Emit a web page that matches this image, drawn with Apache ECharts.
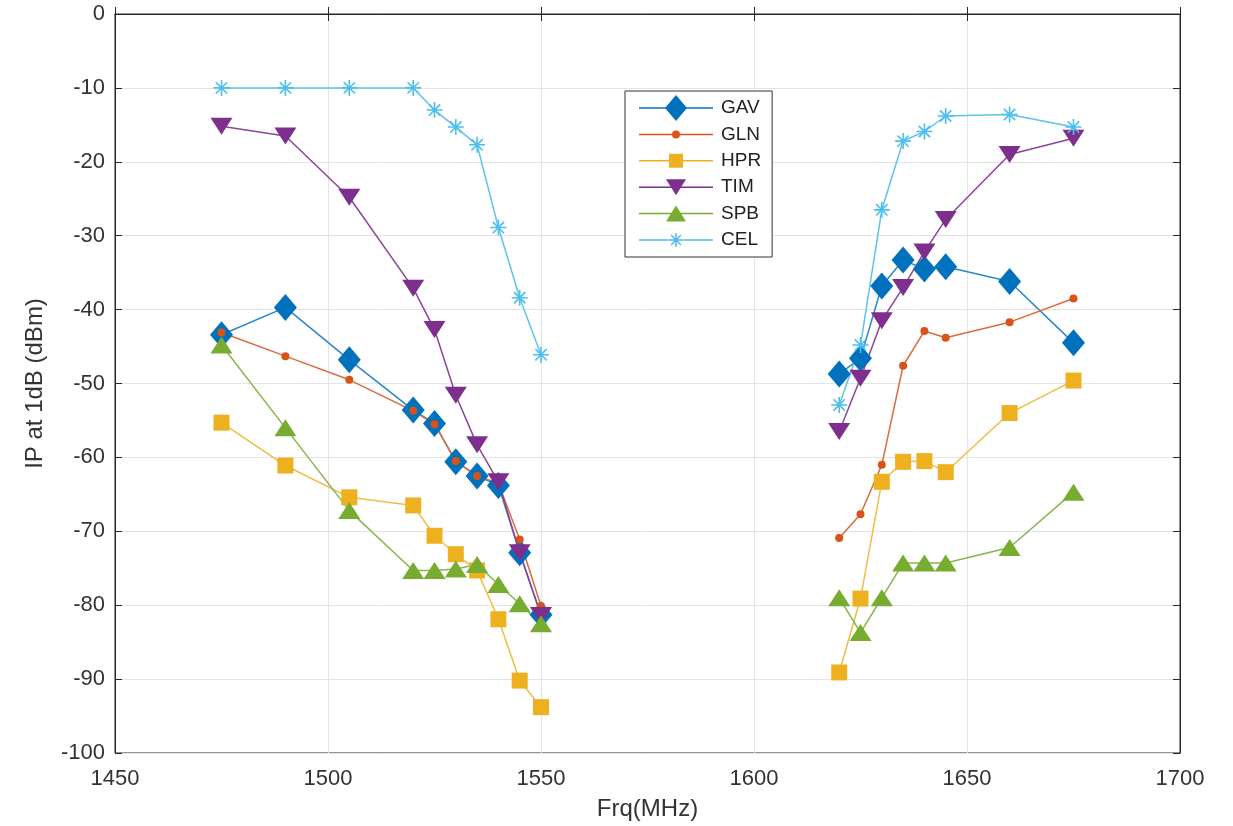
<!DOCTYPE html>
<html>
<head>
<meta charset="utf-8">
<script src="https://cdn.jsdelivr.net/npm/echarts@6/dist/echarts.min.js"></script>
<style>html,body{margin:0;padding:0;background:#fff}#c{width:1233px;height:826px}</style>
</head>
<body>
<div id="c"></div>
<script>
// Frequencies (MHz): lower band and upper band
const freqLow = [1475, 1490, 1505, 1520, 1525, 1530, 1535, 1540, 1545, 1550];
const freqHigh = [1620, 1625, 1630, 1635, 1640, 1645, 1660, 1675];

// IP at 1dB (dBm)
const GAV_low  = [-43.4, -39.7, -46.8, -53.6, -55.4, -60.6, -62.5, -63.8, -72.9, -81.3];
const GAV_high = [-48.7, -46.6, -36.8, -33.3, -34.5, -34.2, -36.2, -44.5];
const GLN_low  = [-43.1, -46.3, -49.5, -53.7, -55.5, -60.5, -62.5, -63.5, -71.1, -80.1];
const GLN_high = [-70.9, -67.7, -61.0, -47.6, -42.9, -43.8, -41.7, -38.5];
const HPR_low  = [-55.3, -61.1, -65.4, -66.5, -70.6, -73.1, -75.3, -81.9, -90.2, -93.8];
const HPR_high = [-89.1, -79.1, -63.3, -60.6, -60.5, -62.0, -54.0, -49.6];
const TIM_low  = [-15.2, -16.5, -24.8, -37.1, -42.7, -51.6, -58.3, -63.3, -72.9, -81.4];
const TIM_high = [-56.5, -49.3, -41.5, -37.0, -32.2, -27.8, -19.0, -16.8];
const SPB_low  = [-44.8, -56.0, -67.2, -75.3, -75.3, -75.1, -74.5, -77.2, -79.8, -82.5];
const SPB_high = [-79.0, -83.7, -79.0, -74.3, -74.3, -74.3, -72.2, -64.7];
const CEL_low  = [-10, -10, -10, -10, -13.0, -15.3, -17.7, -28.9, -38.4, -46.1];
const CEL_high = [-52.9, -44.8, -26.5, -17.2, -15.9, -13.8, -13.6, -15.3];

const xTicks = [1450, 1500, 1550, 1600, 1650, 1700];
const yTicks = [-100, -90, -80, -70, -60, -50, -40, -30, -20, -10, 0];

function build(low, high) {
  const d = freqLow.map((f, i) => [f, low[i]]);
  d.push(['-', '-']);
  freqHigh.forEach((f, i) => d.push([f, high[i]]));
  return d;
}

const asterisk = 'path://M-1,-10L1,-10L1,10L-1,10Z M-10,-1L10,-1L10,1L-10,1Z M-6.36,-7.78L7.78,6.36L6.36,7.78L-7.78,-6.36Z M7.78,-6.36L-6.36,7.78L-7.78,6.36L6.36,-7.78Z';

// legend icons: line + marker, in a 74 x 26 box
const EXT = 'M0,0 M74,26 ';
const LINE = 'M0,12.25 L74,12.25 L74,13.75 L0,13.75 Z ';
const legendIcons = {
  GAV: 'path://' + EXT + LINE + 'M26,13 L37,0 L48,13 L37,26 Z',
  GLN: 'path://' + EXT + LINE + 'M33,13 A4,4 0 1 1 41,13 A4,4 0 1 1 33,13 Z',
  HPR: 'path://' + EXT + LINE + 'M30,6 L44,6 L44,20 L30,20 Z',
  TIM: 'path://' + EXT + LINE + 'M27,5 L47,5 L37,21 Z',
  SPB: 'path://' + EXT + LINE + 'M27,21 L37,5 L47,21 Z',
  CEL: 'path://' + EXT + LINE + 'M36.25,6 L37.75,6 L37.75,20 L36.25,20 Z M30,12.25 L44,12.25 L44,13.75 L30,13.75 Z M32.58,7.52 L42.48,17.42 L41.42,18.48 L31.52,8.58 Z M42.48,8.58 L32.58,18.48 L31.52,17.42 L41.42,7.52 Z'
};

const defs = [
  {name: 'GAV', low: GAV_low, high: GAV_high, color: '#0072BD', line: '#2a86c9', symbol: 'diamond', size: [23, 27], rot: 0},
  {name: 'GLN', low: GLN_low, high: GLN_high, color: '#D95319', line: '#de6a3a', symbol: 'circle', size: 8, rot: 0},
  {name: 'HPR', low: HPR_low, high: HPR_high, color: '#EDB120', line: '#efbd45', symbol: 'rect', size: 16, rot: 0},
  {name: 'TIM', low: TIM_low, high: TIM_high, color: '#7E2F8E', line: '#8a449a', symbol: 'triangle', size: [22, 17], rot: 180},
  {name: 'SPB', low: SPB_low, high: SPB_high, color: '#77AC30', line: '#86b64a', symbol: 'triangle', size: [22, 17], rot: 0},
  {name: 'CEL', low: CEL_low, high: CEL_high, color: '#4DBEEE', line: '#5cc3ef', symbol: asterisk, size: 16, rot: 0}
];

const font = 'Liberation Sans, Arial, sans-serif';

const series = defs.map(s => ({
  name: s.name,
  type: 'line',
  data: build(s.low, s.high),
  connectNulls: false,
  symbol: s.symbol,
  symbolSize: s.size,
  symbolRotate: s.rot,
  showAllSymbol: true,
  lineStyle: {color: s.line, width: 1.5},
  itemStyle: {color: s.color, borderWidth: 0},
  emphasis: {disabled: true},
  animation: false,
  z: 3
}));

const chart = echarts.init(document.getElementById('c'), null, {renderer: 'canvas'});
chart.setOption({
  backgroundColor: '#fff',
  animation: false,
  grid: {left: 115, right: 53, top: 14, bottom: 68, show: true, borderColor: '#262626', borderWidth: 1, backgroundColor: 'transparent'},
  legend: {
    orient: 'vertical',
    left: 625, top: 91,
    data: defs.map(s => ({name: s.name, icon: legendIcons[s.name], itemStyle: {color: s.color, borderWidth: 0}})),
    itemWidth: 74, itemHeight: 26, itemGap: 0.4,
    symbolKeepAspect: false,
    padding: [4, 11, 4, 14],
    borderColor: '#333', borderWidth: 1, backgroundColor: '#fff',
    textStyle: {fontFamily: font, fontSize: 19, color: '#222', padding: [0, 0, 0, 3]},
    selectedMode: false
  },
  xAxis: [{
    type: 'value', min: 1450, max: 1700, interval: 50,
    name: 'Frq(MHz)', nameLocation: 'middle', nameGap: 44,
    nameTextStyle: {fontFamily: font, fontSize: 24, color: '#333'},
    axisLine: {show: true, lineStyle: {color: '#262626'}},
    axisTick: {show: true, inside: true, length: 7, lineStyle: {color: '#262626'}},
    axisLabel: {fontFamily: font, fontSize: 22, color: '#333', margin: 15,
      formatter: v => xTicks.includes(v) ? String(v) : ''},
    splitLine: {show: true, lineStyle: {color: '#e4e4e4', width: 1}}
  }, {
    type: 'value', position: 'top', min: 1450, max: 1700, interval: 50,
    axisLine: {show: true, lineStyle: {color: '#262626'}},
    axisTick: {show: true, inside: true, length: 7, lineStyle: {color: '#262626'}},
    axisLabel: {show: false}, splitLine: {show: false}
  }],
  yAxis: [{
    type: 'value', min: -100, max: 0, interval: 10,
    name: 'IP at 1dB (dBm)', nameLocation: 'middle', nameGap: 68,
    nameTextStyle: {fontFamily: font, fontSize: 24, color: '#333'},
    axisLine: {show: true, lineStyle: {color: '#262626'}},
    axisTick: {show: true, inside: true, length: 7, lineStyle: {color: '#262626'}},
    axisLabel: {fontFamily: font, fontSize: 22, color: '#333', margin: 10,
      formatter: v => yTicks.includes(v) ? String(v) : ''},
    splitLine: {show: true, lineStyle: {color: '#e4e4e4', width: 1}}
  }, {
    type: 'value', position: 'right', min: -100, max: 0, interval: 10,
    axisLine: {show: true, lineStyle: {color: '#262626'}},
    axisTick: {show: true, inside: true, length: 7, lineStyle: {color: '#262626'}},
    axisLabel: {show: false}, splitLine: {show: false}
  }],
  series: series
});
</script>
</body>
</html>
